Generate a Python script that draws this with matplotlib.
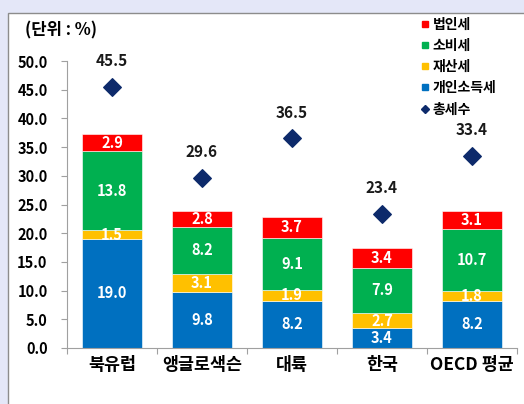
import matplotlib
matplotlib.use("Agg")
import matplotlib.pyplot as plt
from matplotlib.patches import Rectangle
from matplotlib.lines import Line2D
import numpy as np

plt.rcParams['font.family'] = ['Noto Sans CJK KR', 'DejaVu Sans']

# data
regions = ['북유럽', '앵글로색슨', '대륙', '한국', 'OECD 평균']
income_tax = [19.0, 9.8, 8.2, 3.4, 8.2]      # 개인소득세
property_tax = [1.5, 3.1, 1.9, 2.7, 1.8]     # 재산세
consumption_tax = [13.8, 8.2, 9.1, 7.9, 10.7]  # 소비세
corporate_tax = [2.9, 2.8, 3.7, 3.4, 3.1]    # 법인세
total_tax = [45.5, 29.6, 36.5, 23.4, 33.4]   # 총세수
yticks = [0, 5, 10, 15, 20, 25, 30, 35, 40, 45, 50]

fig = plt.figure(figsize=(5.24, 4.04), dpi=100, facecolor='#E4E7F8')
# white panel with grey frame
fig.patches.append(Rectangle((8 / 524, -0.01), 1.0, 1 - 12.5 / 404 + 0.01,
                             transform=fig.transFigure, facecolor='white',
                             edgecolor='#8C8C8C', linewidth=1.0, zorder=-5))

ax = fig.add_axes([67 / 524, 1 - 348 / 404, 450 / 524, 287 / 404])
ax.set_facecolor('none')

x = np.arange(len(regions))
w = 0.667
layers = [
    (income_tax, '#0070C0', '개인소득세'),
    (property_tax, '#FFC000', '재산세'),
    (consumption_tax, '#00B050', '소비세'),
    (corporate_tax, '#FF0000', '법인세'),
]
bottom = np.zeros(len(regions))
for vals, col, name in layers:
    vals = np.array(vals)
    ax.bar(x, vals, w, bottom=bottom, color=col, edgecolor='white', linewidth=0.4, zorder=2)
    for xi, b, v in zip(x, bottom, vals):
        ax.text(xi, b + v / 2, f'{v:.1f}', ha='center', va='center', color='white',
                fontsize=10.5, fontweight='bold', zorder=3)
    bottom = bottom + vals

ax.scatter(x, total_tax, marker='D', s=80, color='#0D2A6B', zorder=4)
for xi, t in zip(x, total_tax):
    ax.text(xi, t + 3.1, f'{t:.1f}', ha='center', va='bottom', color='#1A1A1A',
            fontsize=11, fontweight='bold')

ax.set_xlim(-0.5, len(regions) - 0.5)
ax.set_ylim(0, 50)
ax.set_yticks(yticks)
ax.set_yticklabels([f'{v:.1f}' for v in yticks], fontsize=10.5, fontweight='bold')
ax.set_xticks(np.arange(len(regions) + 1) - 0.5)
ax.set_xticklabels([])
ax.set_xticks(x, minor=True)
ax.set_xticklabels(regions, minor=True, fontsize=12.5, fontweight='bold')
ax.tick_params(axis='x', which='minor', length=0, pad=6)
ax.tick_params(axis='x', which='major', length=4, color='#A0A0A0', direction='out')
ax.tick_params(axis='y', length=4, color='#A0A0A0', pad=10)
for s in ['top', 'right']:
    ax.spines[s].set_visible(False)
for s in ['left', 'bottom']:
    ax.spines[s].set_color('#A0A0A0')
    ax.spines[s].set_linewidth(0.8)

fig.text(25 / 524, 1 - 30 / 404, '(단위 : %)', fontsize=12, fontweight='bold',
         va='center', ha='left')

handles = [
    Line2D([], [], marker='s', linestyle='none', color='#FF0000', markersize=5),
    Line2D([], [], marker='s', linestyle='none', color='#00B050', markersize=5),
    Line2D([], [], marker='s', linestyle='none', color='#FFC000', markersize=5),
    Line2D([], [], marker='s', linestyle='none', color='#0070C0', markersize=5),
    Line2D([], [], marker='D', linestyle='none', color='#0D2A6B', markersize=4),
]
labels = ['법인세', '소비세', '재산세', '개인소득세', '총세수']
fig.legend(handles, labels, loc='upper left', bbox_to_anchor=(412 / 524, 1 - 12 / 404),
           frameon=False, prop={'size': 10, 'weight': 'bold'}, handletextpad=0.1,
           labelspacing=0.52, handlelength=1.0, borderaxespad=0)

fig.savefig('out.png', dpi=100, facecolor=fig.get_facecolor())
